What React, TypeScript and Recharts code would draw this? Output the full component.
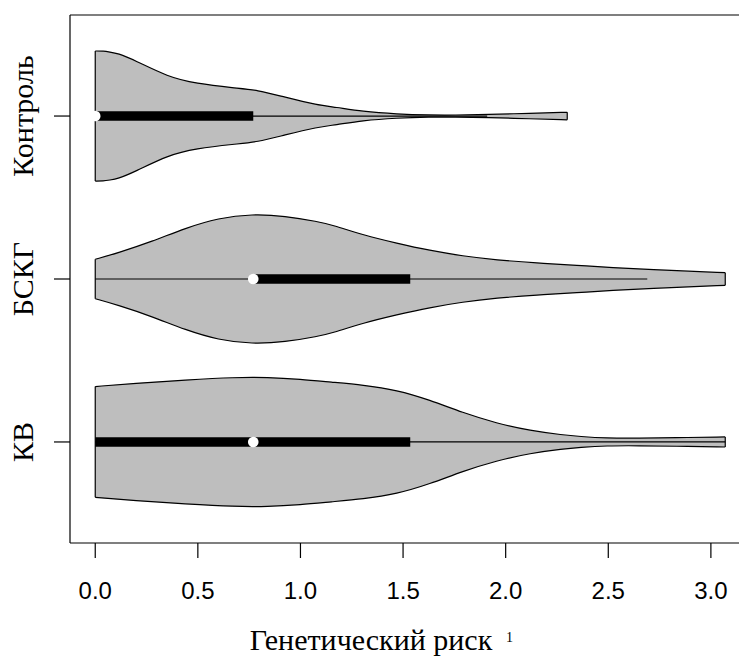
import { ComposedChart, Area, Line, Scatter, XAxis, YAxis, ReferenceLine } from "recharts";

// groups bottom to top, sitting at y = 1, 2, 3
const groups = ["КВ", "БСКГ", "Контроль"];

const xTicks = [0, 0.5, 1, 1.5, 2, 2.5, 3];

// violin outlines: sample positions and half widths (in group units)
const kvX = [0, 0.19, 0.44, 0.68, 0.84, 1.0, 1.15, 1.305, 1.47, 1.63, 1.79, 1.955, 2.12, 2.28, 2.36, 2.49, 2.65, 2.82, 3.07];
const kvW = [0.34, 0.36, 0.38, 0.397, 0.397, 0.385, 0.367, 0.35, 0.319, 0.258, 0.18, 0.115, 0.069, 0.043, 0.034, 0.023, 0.023, 0.026, 0.031];

const bskgX = [0, 0.11, 0.277, 0.44, 0.6, 0.764, 0.925, 1.085, 1.16, 1.305, 1.47, 1.63, 1.79, 1.955, 2.15, 2.36, 2.49, 2.82, 3.07];
const bskgW = [0.121, 0.16, 0.23, 0.313, 0.374, 0.399, 0.387, 0.352, 0.33, 0.27, 0.219, 0.175, 0.141, 0.117, 0.098, 0.083, 0.072, 0.051, 0.039];

const controlX = [0, 0.04, 0.07, 0.11, 0.19, 0.355, 0.49, 0.68, 0.79, 0.92, 1.085, 1.17, 1.3, 1.47, 1.63, 1.75, 1.91, 2.12, 2.3];
const controlW = [0.399, 0.399, 0.393, 0.385, 0.344, 0.24, 0.2, 0.172, 0.16, 0.117, 0.067, 0.055, 0.028, 0.012, 0.006, 0.006, 0.009, 0.017, 0.023];

// box-plot summaries per group: whisker low/high, q1, q3, median
const whiskLo = [0, 0, 0];
const whiskHi = [3.07, 2.69, 1.91];
const q1 = [0, 0.77, 0];
const q3 = [1.535, 1.535, 0.77];
const medians = [0.77, 0.77, 0];

const violins = [
  { xs: kvX, ws: kvW },
  { xs: bskgX, ws: bskgW },
  { xs: controlX, ws: controlW },
];

const SERIF = "'Liberation Serif', 'Times New Roman', serif";
const SANS = "'Liberation Sans', Arial, sans-serif";

function GroupTick({ x, y, payload }: any) {
  return (
    <text
      x={x}
      y={y}
      transform={`rotate(-90 ${x} ${y})`}
      textAnchor="middle"
      fontFamily={SERIF}
      fontSize={30}
      fill="#000"
    >
      {groups[Math.round(payload.value) - 1]}
    </text>
  );
}

function XTitle(props: any) {
  const vb = props.viewBox;
  const cx = vb.x + 301;
  const y = vb.y + 107;
  return (
    <g>
      <text x={cx} y={y} textAnchor="middle" fontFamily={SERIF} fontSize={30} fill="#000">
        Генетический риск
      </text>
      <text x={cx + 135} y={y - 8} fontFamily={SERIF} fontSize={14} fill="#000">
        1
      </text>
    </g>
  );
}

const dot = (p: any) => <circle cx={p.cx} cy={p.cy} r={5.3} fill="#fff" />;

export default function App() {
  return (
    <div style={{ position: "absolute", left: 0, top: 0 }}>
      <ComposedChart width={739} height={657} margin={{ top: 15, right: 0, bottom: 0, left: 0 }}>
        <XAxis
          type="number"
          dataKey="x"
          domain={[-0.123, 3.137]}
          allowDataOverflow
          ticks={xTicks}
          interval={0}
          tickFormatter={(v: number) => v.toFixed(1)}
          height={114}
          tickSize={15}
          tickMargin={24}
          axisLine={{ stroke: "#000", strokeWidth: 1.2 }}
          tickLine={{ stroke: "#000", strokeWidth: 1.2 }}
          tick={{ fontSize: 24, fontFamily: SANS, fill: "#000" }}
          label={<XTitle />}
        />
        <YAxis
          type="number"
          domain={[0.38, 3.62]}
          allowDataOverflow
          ticks={[1, 2, 3]}
          interval={0}
          width={70}
          tickSize={16}
          tickMargin={21}
          axisLine={{ stroke: "#000", strokeWidth: 1.2 }}
          tickLine={{ stroke: "#000", strokeWidth: 1.2 }}
          tick={<GroupTick />}
        />
        <ReferenceLine y={3.62} stroke="#000" strokeWidth={1.2} />

        {violins.map((v, g) => (
          <Area
            key={`v${g}`}
            data={v.xs.map((x, i) => ({ x, r: [g + 1 - v.ws[i], g + 1 + v.ws[i]] }))}
            dataKey="r"
            type="basis"
            fill="#bebebe"
            fillOpacity={1}
            stroke="#000"
            strokeWidth={1.2}
            dot={false}
            activeDot={false}
            isAnimationActive={false}
          />
        ))}
        {violins.map((v, g) => (
          <Line
            key={`s${g}`}
            data={[
              { x: v.xs[0], y: g + 1 - v.ws[0] },
              { x: v.xs[0], y: g + 1 + v.ws[0] },
            ]}
            dataKey="y"
            type="linear"
            stroke="#000"
            strokeWidth={1.2}
            dot={false}
            activeDot={false}
            isAnimationActive={false}
          />
        ))}
        {violins.map((v, g) => (
          <Line
            key={`e${g}`}
            data={[
              { x: v.xs[v.xs.length - 1], y: g + 1 - v.ws[v.ws.length - 1] },
              { x: v.xs[v.xs.length - 1], y: g + 1 + v.ws[v.ws.length - 1] },
            ]}
            dataKey="y"
            type="linear"
            stroke="#000"
            strokeWidth={1.2}
            dot={false}
            activeDot={false}
            isAnimationActive={false}
          />
        ))}
        {groups.map((_, g) => (
          <Line
            key={`w${g}`}
            data={[
              { x: whiskLo[g], y: g + 1 },
              { x: whiskHi[g], y: g + 1 },
            ]}
            dataKey="y"
            type="linear"
            stroke="#000"
            strokeWidth={1.2}
            dot={false}
            activeDot={false}
            isAnimationActive={false}
          />
        ))}
        {groups.map((_, g) => (
          <Line
            key={`q${g}`}
            data={[
              { x: q1[g], y: g + 1 },
              { x: q3[g], y: g + 1 },
            ]}
            dataKey="y"
            type="linear"
            stroke="#000"
            strokeWidth={9.5}
            strokeLinecap="butt"
            dot={false}
            activeDot={false}
            isAnimationActive={false}
          />
        ))}
        <Scatter
          data={medians.map((m, g) => ({ x: m, y: g + 1 }))}
          dataKey="y"
          shape={dot}
          isAnimationActive={false}
        />
      </ComposedChart>
    </div>
  );
}
